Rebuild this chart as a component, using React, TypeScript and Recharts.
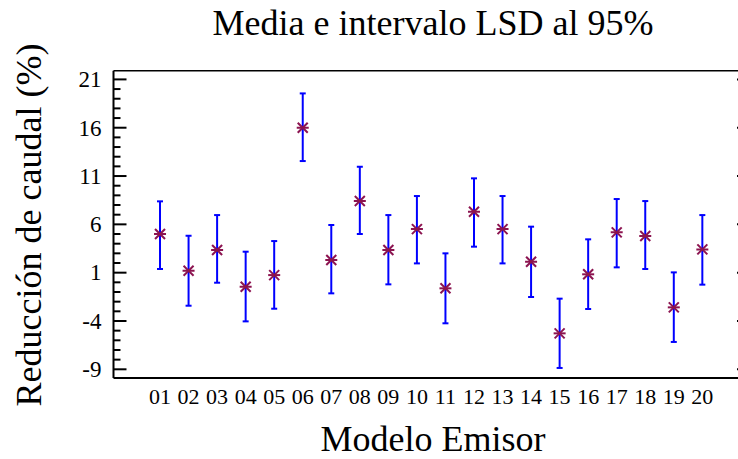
import React from "react";
import { ComposedChart, Scatter, XAxis, YAxis, ErrorBar } from "recharts";

// Modelo de emisor, media y límites del intervalo LSD al 95%
const models = ["01", "02", "03", "04", "05", "06", "07", "08", "09", "10", "11", "12", "13", "14", "15", "16", "17", "18", "19", "20"];
const means = [5.0, 1.2, 3.34, -0.45, 0.75, 16.0, 2.31, 8.41, 3.34, 5.51, -0.62, 7.31, 5.51, 2.13, -5.28, 0.83, 5.17, 4.79, -2.59, 3.41];
const lower = [1.38, -2.42, -0.04, -4.04, -2.73, 12.55, -1.14, 5.0, -0.21, 1.96, -4.24, 3.69, 1.96, -1.52, -8.86, -2.76, 1.55, 1.38, -6.17, -0.24];
const upper = [8.38, 4.82, 6.96, 3.17, 4.27, 19.55, 5.93, 11.96, 6.96, 8.93, 3.0, 10.76, 8.93, 5.76, -1.69, 4.45, 8.62, 8.41, 1.03, 6.96];

const yTicks = [-9, -8, -7, -6, -5, -4, -3, -2, -1, 0, 1, 2, 3, 4, 5, 6, 7, 8, 9, 10, 11, 12, 13, 14, 15, 16, 17, 18, 19, 20, 21];
const yLabels = [-9, -4, 1, 6, 11, 16, 21];

const data = models.map((m, i) => ({
  model: m,
  pos: i + 1,
  mean: means[i],
  err: [means[i] - lower[i], upper[i] - means[i]],
}));
const xTicks = data.map((d) => d.pos);

const FONT = '"Liberation Serif", "Times New Roman", Times, "DejaVu Serif", serif';
const X_DOMAIN: [number, number] = [-0.63, 21.67];
const Y_DOMAIN: [number, number] = [-9.9, 21.9];

const LeftTick = (props: any) => {
  const { x, y, payload } = props;
  const major = yLabels.includes(payload.value);
  return (
    <g>
      <line x1={x} y1={y} x2={x + (major ? 13 : 7)} y2={y} stroke="#000" strokeWidth={2} />
      {major && (
        <text x={x - 12} y={y} dy="0.34em" textAnchor="end" style={{ fontFamily: FONT, fontSize: 23 }} fill="#000">
          {payload.value}
        </text>
      )}
    </g>
  );
};

const RightTick = (props: any) => {
  const { x, y, payload } = props;
  const major = yLabels.includes(payload.value);
  return <line x1={x} y1={y} x2={x - (major ? 13 : 7)} y2={y} stroke="#000" strokeWidth={2} />;
};

const XTick = (props: any) => {
  const { x, y, payload } = props;
  return (
    <text x={x} y={y + 26} textAnchor="middle" style={{ fontFamily: FONT, fontSize: 22 }} fill="#000">
      {models[payload.value - 1]}
    </text>
  );
};

const Asterisk = (props: any) => {
  const { cx, cy } = props;
  if (cx == null || cy == null) return null;
  return (
    <g stroke="#8c1450" strokeWidth={2}>
      <line x1={cx - 6} y1={cy} x2={cx + 6} y2={cy} />
      <line x1={cx - 5} y1={cy - 5} x2={cx + 5} y2={cy + 5} />
      <line x1={cx - 5} y1={cy + 5} x2={cx + 5} y2={cy - 5} />
    </g>
  );
};

export default function App() {
  return (
    <div style={{ position: "absolute", left: 0, top: 0, width: 738, height: 459, overflow: "hidden", background: "#fff" }}>
      <ComposedChart width={770} height={459} data={data} margin={{ top: 69.7, right: 19, bottom: 80, left: 112.5 }}>
        <XAxis
          xAxisId="b"
          type="number"
          dataKey="pos"
          domain={X_DOMAIN}
          allowDataOverflow
          ticks={xTicks}
          interval={0}
          height={1}
          tickSize={0}
          tickMargin={0}
          tickLine={false}
          axisLine={{ stroke: "#000", strokeWidth: 2 }}
          tick={<XTick />}
        />
        <XAxis
          xAxisId="t"
          orientation="top"
          type="number"
          domain={X_DOMAIN}
          allowDataOverflow
          height={1}
          tick={false}
          tickLine={false}
          axisLine={{ stroke: "#000", strokeWidth: 1.5 }}
        />
        <YAxis
          yAxisId="l"
          type="number"
          domain={Y_DOMAIN}
          allowDataOverflow
          ticks={yTicks}
          interval={0}
          width={1}
          tickSize={0}
          tickMargin={0}
          tickLine={false}
          axisLine={{ stroke: "#000", strokeWidth: 2 }}
          tick={<LeftTick />}
        />
        <YAxis
          yAxisId="r"
          orientation="right"
          type="number"
          domain={Y_DOMAIN}
          allowDataOverflow
          ticks={yTicks}
          interval={0}
          width={1}
          tickSize={0}
          tickMargin={0}
          tickLine={false}
          axisLine={{ stroke: "#000", strokeWidth: 2 }}
          tick={<RightTick />}
        />
        <Scatter xAxisId="b" yAxisId="l" dataKey="mean" shape={<Asterisk />} isAnimationActive={false}>
          <ErrorBar dataKey="err" direction="y" stroke="#0000ff" strokeWidth={2} width={3} isAnimationActive={false} />
        </Scatter>
      </ComposedChart>
      <svg width={738} height={459} style={{ position: "absolute", left: 0, top: 0, pointerEvents: "none" }}>
        <text x={433} y={35} textAnchor="middle" style={{ fontFamily: FONT, fontSize: 36 }} fill="#000">
          Media e intervalo LSD al 95%
        </text>
        <text x={433} y={451} textAnchor="middle" style={{ fontFamily: FONT, fontSize: 36 }} fill="#000">
          Modelo Emisor
        </text>
        <text
          x={41}
          y={225}
          textAnchor="middle"
          transform="rotate(-90 41 225)"
          style={{ fontFamily: FONT, fontSize: 36 }}
          fill="#000"
        >
          Reducción de caudal (%)
        </text>
      </svg>
    </div>
  );
}
